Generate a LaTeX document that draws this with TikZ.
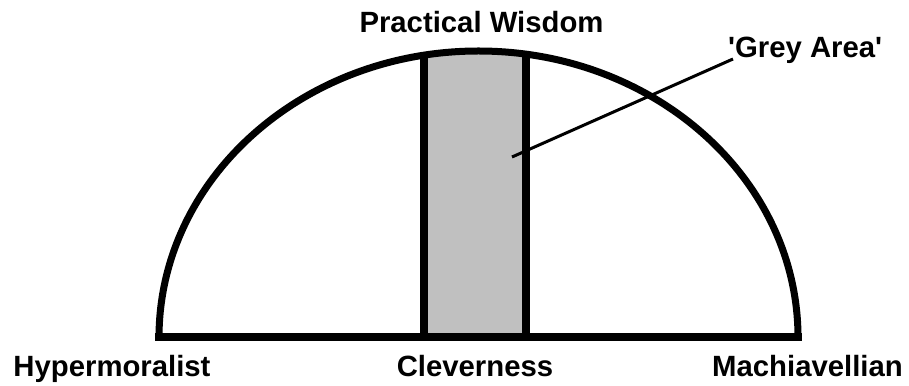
\documentclass[tikz,border=0pt]{standalone}
\usepackage{fontspec}
\setmainfont{Liberation Sans}
\definecolor{areagrey}{HTML}{C0C0C0}
\tikzset{
  lbl/.style={inner sep=0pt,font=\fontsize{29.3}{32}\selectfont\bfseries},
  thick line/.style={black,line width=8pt},
}
\begin{document}
\begin{tikzpicture}[x=1pt,y=1pt]
  \useasboundingbox (0,0) rectangle (909,385);
  % grey band
  \fill[areagrey] (424,47.5) rectangle (526,331);
  \draw[thick line] (424,47.5) -- (424,331);
  \draw[thick line] (526,47.5) -- (526,331);
  % half ellipse and base
  \draw[black,line width=7pt] (159,47.5) arc[start angle=180,end angle=0,x radius=319.5,y radius=286.5];
  \draw[thick line,line cap=rect] (159,47.5) -- (798,47.5);
  % labels
  \node[lbl,anchor=base] (wisdom) at (481.5,352) {Practical Wisdom};
  \node[lbl,anchor=base west] (grey) at (728,327) {\textquotesingle Grey Area\textquotesingle};
  \node[lbl,anchor=base] (hyper) at (112,9) {Hypermoralist};
  \node[lbl,anchor=base] (clever) at (475,9) {Cleverness};
  \node[lbl,anchor=base] (machia) at (807.5,9) {Machiavellian};
  \coordinate (greypt) at (512,228);
  \draw[black,line width=3pt] (greypt) -- ([xshift=5pt,yshift=-1pt]grey.base west);
\end{tikzpicture}
\end{document}
